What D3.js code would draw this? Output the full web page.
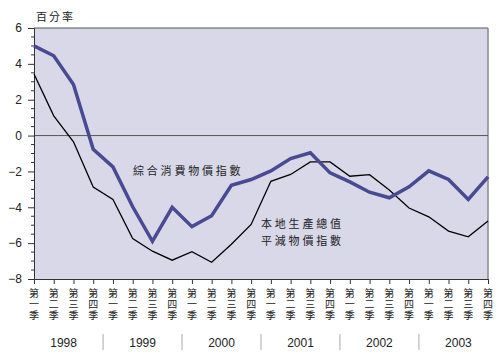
<!DOCTYPE html>
<html>
<head>
<meta charset="utf-8">
<script src="https://cdn.jsdelivr.net/npm/d3@7"></script>
<style>
	body { margin: 0; background: #fff; }
	text { font-family: "Liberation Sans", Arial, sans-serif; fill: #222; }
	.cjk { font-family: "Noto Sans CJK TC", "Noto Sans CJK SC", sans-serif; }
</style>
</head>
<body>
<svg id="chart"></svg>
<script>
// quarters 1998 Q1 .. 2003 Q4
let years = ['1998', '1999', '2000', '2001', '2002', '2003'];
let quarterNames = ['一', '二', '三', '四'];

// composite CPI, % change yoy
let ccpi = [5.0, 4.45, 2.85, -0.77, -1.75, -3.97, -5.9, -4.0,
	-5.08, -4.47, -2.77, -2.45, -1.97, -1.28, -0.96, -2.08,
	-2.58, -3.16, -3.47, -2.86, -1.97, -2.45, -3.56, -2.3];
// GDP deflator, % change yoy
let gdpDef = [3.43, 1.1, -0.35, -2.87, -3.56, -5.75, -6.45, -6.95,
	-6.48, -7.07, -6.06, -4.96, -2.55, -2.17, -1.47, -1.47,
	-2.27, -2.18, -3.04, -4.04, -4.53, -5.33, -5.65, -4.77];

let yTicks = [6, 4, 2, 0, -2, -4, -6, -8];

let marg = { top: 28, left: 34, right: 13, bottom: 81 };
let W = 501, H = 360;
let w = W - marg.left - marg.right, h = H - marg.top - marg.bottom;

const svg = d3.select('#chart').attr('width', W).attr('height', H);

const x = d3.scaleLinear().domain([0, ccpi.length - 1]).range([marg.left, marg.left + w]);
const y = d3.scaleLinear().domain([-8, 6]).range([marg.top + h, marg.top]);

// plot background
svg.append('rect')
	.attr('x', marg.left).attr('y', marg.top)
	.attr('width', w).attr('height', h)
	.attr('fill', '#d9d8e8');

// top and right frame
svg.append('line').attr('x1', marg.left).attr('x2', marg.left + w)
	.attr('y1', marg.top).attr('y2', marg.top)
	.attr('stroke', '#555').attr('stroke-width', 1);
svg.append('line').attr('x1', marg.left + w).attr('x2', marg.left + w)
	.attr('y1', marg.top).attr('y2', marg.top + h)
	.attr('stroke', '#888').attr('stroke-width', 1.5);

// zero line
svg.append('line').attr('x1', marg.left).attr('x2', marg.left + w)
	.attr('y1', y(0)).attr('y2', y(0))
	.attr('stroke', '#555').attr('stroke-width', 1);

// y axis: major ticks every 2, minor every 0.5
const yAxis = d3.axisLeft(y).tickValues(yTicks).tickSize(6).tickPadding(6)
	.tickFormat(d3.format('d'));
const gy = svg.append('g').attr('transform', 'translate(' + marg.left + ',0)').call(yAxis);
gy.select('.domain').attr('stroke', '#333');
gy.selectAll('.tick line').attr('stroke', '#333');
gy.selectAll('.tick text').attr('font-size', 12).attr('fill', '#222')
	.attr('font-family', '"Liberation Sans", Arial, sans-serif');

let minor = d3.range(-8, 6.01, 0.5).filter(v => yTicks.indexOf(v) < 0);
svg.append('g').selectAll('line').data(minor).enter().append('line')
	.attr('x1', marg.left - 3).attr('x2', marg.left)
	.attr('y1', d => y(d)).attr('y2', d => y(d))
	.attr('stroke', '#333');

// x axis
const xAxis = d3.axisBottom(x).tickValues(d3.range(ccpi.length)).tickSize(5).tickFormat('');
const gx = svg.append('g').attr('transform', 'translate(0,' + (marg.top + h) + ')').call(xAxis);
gx.select('.domain').attr('stroke', '#333');
gx.selectAll('.tick line').attr('stroke', '#333');

// quarter labels, written top-to-bottom
svg.append('g').selectAll('text').data(d3.range(ccpi.length)).enter()
	.append('text')
	.attr('class', 'cjk')
	.attr('writing-mode', 'vertical-rl')
	.attr('font-size', 10)
	.attr('letter-spacing', 1)
	.attr('x', d => x(d))
	.attr('y', 288)
	.text(d => '第' + quarterNames[d % 4] + '季');

// year labels and separators
svg.append('g').selectAll('text').data(years).enter().append('text')
	.attr('x', (d, i) => (x(i * 4) + x(i * 4 + 3)) / 2)
	.attr('y', 347)
	.attr('text-anchor', 'middle')
	.attr('font-size', 12)
	.text(d => d);
svg.append('g').selectAll('line').data(d3.range(1, years.length)).enter().append('line')
	.attr('x1', d => x(d * 4 - 0.5)).attr('x2', d => x(d * 4 - 0.5))
	.attr('y1', 334).attr('y2', 350)
	.attr('stroke', '#aaa').attr('stroke-width', 1);

// unit label
svg.append('text').attr('class', 'cjk')
	.attr('x', 36).attr('y', 21).attr('font-size', 11)
	.attr('letter-spacing', 2)
	.text('百分率');

// lines
const line = d3.line().x((d, i) => x(i)).y(d => y(d));
svg.append('path').datum(gdpDef)
	.attr('d', line).attr('fill', 'none')
	.attr('stroke', '#000').attr('stroke-width', 1.3);
svg.append('path').datum(ccpi)
	.attr('d', line).attr('fill', 'none')
	.attr('stroke', '#484b93').attr('stroke-width', 3.5)
	.attr('stroke-linejoin', 'miter');

// series labels
svg.append('text').attr('class', 'cjk')
	.attr('x', 133).attr('y', 175).attr('font-size', 11)
	.attr('letter-spacing', 2.8)
	.text('綜合消費物價指數');
svg.append('text').attr('class', 'cjk')
	.attr('x', 261).attr('y', 228).attr('font-size', 11)
	.attr('letter-spacing', 2.8)
	.text('本地生產總值');
svg.append('text').attr('class', 'cjk')
	.attr('x', 261).attr('y', 245).attr('font-size', 11)
	.attr('letter-spacing', 2.8)
	.text('平減物價指數');
</script>
</body>
</html>
